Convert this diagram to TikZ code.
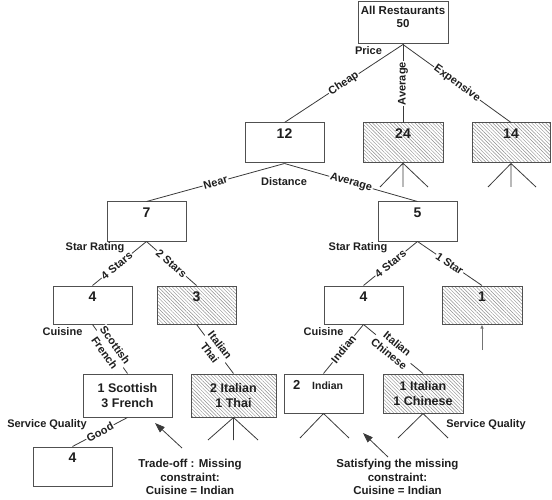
\documentclass[tikz,border=0pt]{standalone}
\usepackage{fontspec}
\setmainfont{Liberation Sans}
\usetikzlibrary{patterns.meta,arrows.meta}
\definecolor{linec}{HTML}{3A3A3A}
\definecolor{boxc}{HTML}{505050}
\definecolor{textc}{HTML}{1E1E1E}
\begin{document}
\begin{tikzpicture}[x=1pt,y=-1pt,
  box/.style={draw=boxc,line width=1pt,inner sep=0pt,text=textc},
  hatch/.style={pattern={Lines[angle=-45,distance=2.5pt,line width=0.45pt]},pattern color=black!45},
  numf/.style={font=\fontsize{14}{16}\selectfont\bfseries},
  nbox/.style n args={3}{box,numf,minimum width=#1,minimum height=#2,text height=15.5pt,text depth=#3},
  tbox/.style n args={2}{box,font=\fontsize{12.5}{15}\selectfont\bfseries,align=center,minimum width=#1,minimum height=#2},
  edge/.style={draw=linec,line width=0.8pt},
  elabb/.style={font=\fontsize{11}{13}\selectfont\bfseries,fill=white,inner sep=1pt,text=textc,align=center},
  elab/.style={elabb,sloped},
  plab/.style={font=\fontsize{11}{13}\selectfont\bfseries,text=textc,inner sep=0pt},
  note/.style={font=\fontsize{11.5}{13.5}\selectfont\bfseries,text=textc,align=center,inner sep=0pt},
  arr/.style={draw=linec,line width=0.8pt,-{Triangle[length=10pt,width=7pt]}}
]
\useasboundingbox (0,0) rectangle (552,500);

% boxes
\node[box,minimum width=90pt,minimum height=42pt,text height=13pt,text depth=29pt,
      font=\fontsize{11.5}{13}\selectfont\bfseries] (root) at (403,23)
      {\begin{tabular}[t]{@{}c@{}}All Restaurants\\50\end{tabular}};
\node[nbox={79pt}{40pt}{24.5pt}] (n12) at (284.5,143) {12};
\node[nbox={80pt}{40pt}{24.5pt},hatch] (n24) at (403,143) {24};
\node[nbox={78pt}{40pt}{24.5pt},hatch] (n14) at (511,143) {14};
\node[nbox={79pt}{39pt}{23.5pt}] (n7) at (146.5,221.5) {7};
\node[nbox={79pt}{39pt}{23.5pt}] (n5) at (417.5,221.5) {5};
\node[nbox={79pt}{38pt}{22.5pt}] (n4a) at (92.5,305) {4};
\node[nbox={79pt}{38pt}{22.5pt},hatch] (n3) at (196.5,305) {3};
\node[nbox={79pt}{38pt}{22.5pt}] (n4b) at (363.5,305) {4};
\node[nbox={80pt}{38pt}{22.5pt},hatch] (n1) at (482,305) {1};
\node[tbox={89pt}{43pt}] (nsf) at (127.5,395.5) {1 Scottish\\3 French};
\node[tbox={85pt}{43pt},hatch] (nit) at (233.5,395.5) {2 Italian\\1 Thai};
\node[box,minimum width=79pt,minimum height=39pt,text height=15pt,text depth=24pt] (nind) at (323.5,393.5)
      {\makebox[79pt][l]{\hspace{9pt}{\fontsize{13}{15}\selectfont\bfseries 2}\hspace{12pt}{\fontsize{10.5}{12}\selectfont\bfseries Indian}}};
\node[tbox={80pt}{39pt},hatch] (nic) at (423,393.5) {1 Italian\\1 Chinese};
\node[nbox={79pt}{39pt}{23.5pt}] (n4c) at (72.5,466.5) {4};

% tree edges
\draw[edge] (root.south) -- node[elab]{Cheap} (n12.north);
\draw[edge] (root.south) -- node[elabb,rotate=90]{Average} (n24.north);
\draw[edge] (root.south) -- node[elab]{Expensive} (n14.north);
\draw[edge] (n12.south) -- node[elab]{Near} (n7.north);
\draw[edge] (n12.south) -- node[elab]{Average} (n5.north);
\draw[edge] (n7.south) -- node[elab,pos=0.55]{4 Stars} (n4a.north);
\draw[edge] (n7.south) -- node[elab]{2 Stars} (n3.north);
\draw[edge] (n5.south) -- node[elab]{4 Stars} (n4b.north);
\draw[edge] (n5.south) -- node[elab]{1 Star} (n1.north);
\draw[edge] (n4a.south) -- node[elab]{Scottish\\French} (nsf.north);
\draw[edge] (n3.south) -- node[elab]{Italian\\Thai} (nit.north);
\draw[edge] (n4b.south) -- node[elab]{Indian} (nind.north);
\draw[edge] (n4b.south) -- node[elab]{Italian\\Chinese} (nic.north);
\draw[edge] (nsf.south) -- node[elab]{Good} (n4c.north);

% fans
\coordinate (f24a) at (380,187); \coordinate (f24b) at (403,187); \coordinate (f24c) at (428,187);
\coordinate (f14a) at (488,187); \coordinate (f14b) at (511,187); \coordinate (f14c) at (536,187);
\coordinate (fita) at (208,440); \coordinate (fitb) at (233.5,440); \coordinate (fitc) at (258,440);
\coordinate (finda) at (300,438); \coordinate (findb) at (349,438);
\coordinate (fica) at (398,438); \coordinate (ficb) at (448,438);
\draw[edge] (n24.south) -- (f24a) (n24.south) -- (f24b) (n24.south) -- (f24c);
\draw[edge] (n14.south) -- (f14a) (n14.south) -- (f14b) (n14.south) -- (f14c);
\draw[edge] (nit.south) -- (fita) (nit.south) -- (fitb) (nit.south) -- (fitc);
\draw[edge] (nind.south) -- (finda) (nind.south) -- (findb);
\draw[edge] (nic.south) -- (fica) (nic.south) -- (ficb);

% small arrow under box 1
\coordinate (u1) at (482,350);
\draw[draw=black!55,line width=0.8pt,-{Latex[length=4pt,width=3.5pt]}] (u1) -- (n1.south);

% plain labels
\node[plab] (price) at (368.5,51) {Price};
\node[plab] (dist) at (284,182) {Distance};
\node[plab] (sr1) at (95,248) {Star Rating};
\node[plab] (sr2) at (358,248) {Star Rating};
\node[plab] (cu1) at (62.5,332) {Cuisine};
\node[plab] (cu2) at (323.5,332) {Cuisine};
\node[plab] (sq1) at (47,425) {Service Quality};
\node[plab] (sq2) at (486,425) {Service Quality};

% notes and arrows
\node[note] (tnote) at (190,477) {Trade-off : Missing\\constraint:\\Cuisine = Indian};
\node[note] (snote) at (397.5,477) {Satisfying the missing\\constraint:\\Cuisine = Indian};
\coordinate (a1s) at (182,448); \coordinate (a1e) at (155,423);
\coordinate (a2s) at (388,457); \coordinate (a2e) at (363,433);
\draw[arr] (a1s) -- (a1e);
\draw[arr] (a2s) -- (a2e);
\end{tikzpicture}
\end{document}
